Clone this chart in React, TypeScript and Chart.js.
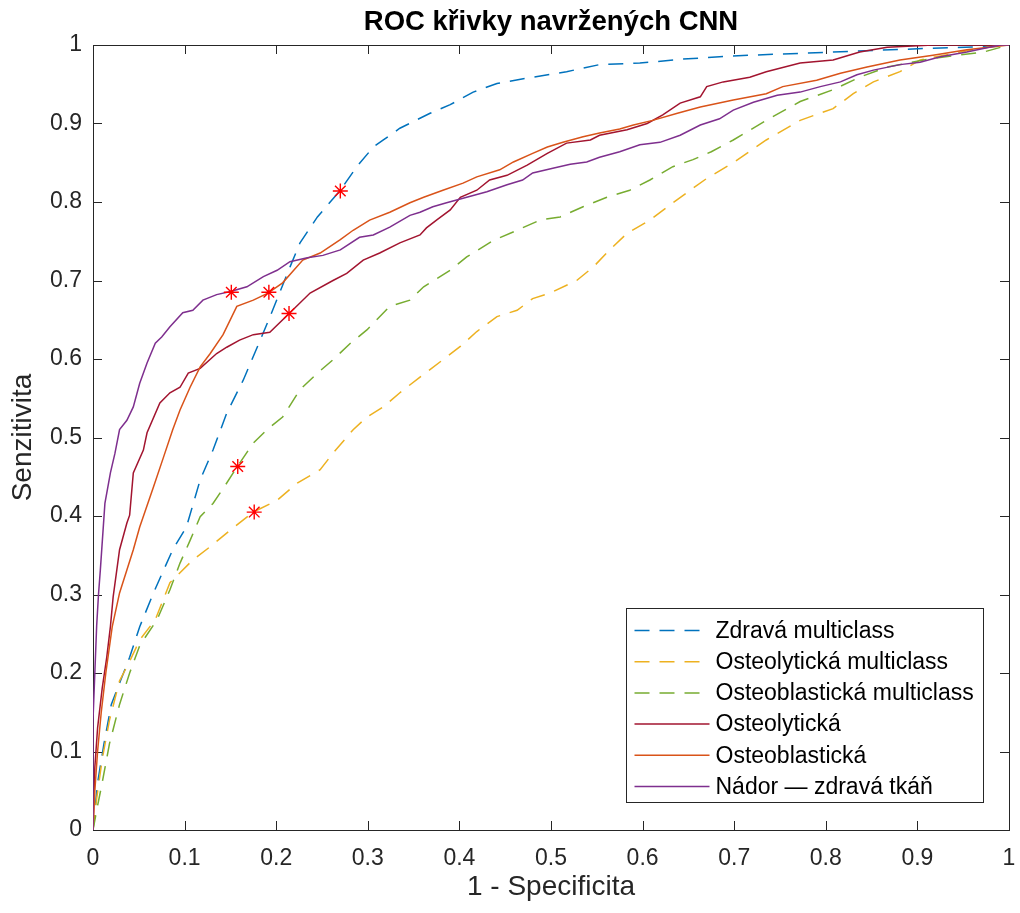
import React, { useEffect, useRef } from "react";
import { Chart, registerables } from "chart.js";

Chart.register(...registerables);

const TITLE = "ROC křivky navržených CNN";
const X_LABEL = "1 - Specificita";
const Y_LABEL = "Senzitivita";
const TICKS = [0, 0.1, 0.2, 0.3, 0.4, 0.5, 0.6, 0.7, 0.8, 0.9, 1];

const SERIES_NAMES = [
  "Zdravá multiclass",
  "Osteolytická multiclass",
  "Osteoblastická multiclass",
  "Osteolytická",
  "Osteoblastická",
  "Nádor — zdravá tkáň",
];
const SERIES_COLORS = ["#0072BD", "#EDB120", "#77AC30", "#A2142F", "#D95319", "#7E2F8E"];
const SERIES_DASHED = [true, true, true, false, false, false];

// Zdravá multiclass
const zdravaMultiFpr = [0, 0.005, 0.012, 0.02, 0.03, 0.04, 0.051, 0.066, 0.087, 0.102, 0.117, 0.131, 0.146, 0.164, 0.184, 0.195, 0.215, 0.226, 0.245, 0.27, 0.288, 0.306, 0.317, 0.335, 0.368, 0.39, 0.415, 0.441, 0.48, 0.517, 0.553, 0.597, 0.644, 0.684, 0.717, 0.808, 0.917, 0.983, 1];
const zdravaMultiTpr = [0, 0.06, 0.11, 0.16, 0.19, 0.22, 0.259, 0.302, 0.357, 0.386, 0.446, 0.484, 0.531, 0.573, 0.628, 0.659, 0.717, 0.748, 0.781, 0.815, 0.845, 0.87, 0.879, 0.894, 0.913, 0.924, 0.94, 0.951, 0.959, 0.966, 0.975, 0.977, 0.982, 0.985, 0.987, 0.991, 0.996, 0.998, 1];

// Osteolytická multiclass
const lytMultiFpr = [0, 0.004, 0.01, 0.018, 0.029, 0.04, 0.051, 0.068, 0.084, 0.109, 0.128, 0.15, 0.175, 0.201, 0.223, 0.248, 0.262, 0.284, 0.299, 0.317, 0.335, 0.357, 0.382, 0.401, 0.419, 0.441, 0.463, 0.48, 0.499, 0.528, 0.546, 0.564, 0.583, 0.608, 0.633, 0.652, 0.67, 0.699, 0.735, 0.772, 0.808, 0.83, 0.852, 0.881, 0.903, 0.947, 0.99, 1];
const lytMultiTpr = [0, 0.04, 0.09, 0.14, 0.19, 0.215, 0.242, 0.268, 0.315, 0.344, 0.361, 0.382, 0.405, 0.42, 0.442, 0.459, 0.48, 0.51, 0.526, 0.539, 0.557, 0.577, 0.599, 0.616, 0.635, 0.654, 0.662, 0.677, 0.684, 0.7, 0.717, 0.739, 0.76, 0.777, 0.799, 0.815, 0.83, 0.85, 0.879, 0.904, 0.919, 0.938, 0.953, 0.966, 0.981, 0.991, 1, 1];

// Osteoblastická multiclass
const blastMultiFpr = [0, 0.004, 0.01, 0.018, 0.029, 0.04, 0.051, 0.07, 0.084, 0.095, 0.106, 0.117, 0.131, 0.146, 0.157, 0.175, 0.19, 0.207, 0.226, 0.245, 0.262, 0.281, 0.299, 0.324, 0.346, 0.361, 0.39, 0.408, 0.437, 0.463, 0.488, 0.51, 0.535, 0.561, 0.586, 0.608, 0.633, 0.655, 0.675, 0.699, 0.735, 0.772, 0.808, 0.837, 0.867, 0.917, 0.972, 1];
const blastMultiTpr = [0, 0.025, 0.06, 0.11, 0.16, 0.2, 0.235, 0.268, 0.306, 0.34, 0.369, 0.399, 0.416, 0.442, 0.462, 0.493, 0.51, 0.526, 0.561, 0.582, 0.599, 0.62, 0.637, 0.667, 0.675, 0.692, 0.713, 0.73, 0.751, 0.764, 0.777, 0.781, 0.794, 0.806, 0.815, 0.828, 0.845, 0.854, 0.864, 0.879, 0.904, 0.928, 0.943, 0.959, 0.972, 0.983, 0.991, 1];

// Osteolytická
const lytFpr = [0, 0.002, 0.005, 0.01, 0.015, 0.019, 0.022, 0.029, 0.037, 0.04, 0.044, 0.055, 0.059, 0.073, 0.084, 0.095, 0.104, 0.117, 0.135, 0.146, 0.16, 0.175, 0.193, 0.215, 0.237, 0.262, 0.277, 0.295, 0.313, 0.335, 0.357, 0.364, 0.375, 0.39, 0.401, 0.419, 0.433, 0.452, 0.474, 0.496, 0.517, 0.543, 0.553, 0.583, 0.605, 0.622, 0.641, 0.663, 0.67, 0.688, 0.717, 0.735, 0.772, 0.808, 0.837, 0.867, 0.917, 1];
const lytTpr = [0, 0.08, 0.13, 0.18, 0.22, 0.259, 0.297, 0.357, 0.391, 0.401, 0.455, 0.484, 0.506, 0.544, 0.557, 0.564, 0.582, 0.588, 0.607, 0.615, 0.624, 0.631, 0.634, 0.659, 0.684, 0.7, 0.709, 0.726, 0.735, 0.748, 0.758, 0.767, 0.777, 0.79, 0.806, 0.815, 0.828, 0.834, 0.847, 0.862, 0.875, 0.879, 0.885, 0.892, 0.9, 0.911, 0.926, 0.934, 0.947, 0.953, 0.959, 0.966, 0.977, 0.981, 0.991, 0.997, 1, 1];

// Osteoblastická
const blastFpr = [0, 0.002, 0.005, 0.009, 0.014, 0.021, 0.029, 0.044, 0.051, 0.066, 0.077, 0.087, 0.095, 0.106, 0.117, 0.128, 0.142, 0.157, 0.175, 0.191, 0.207, 0.229, 0.248, 0.27, 0.284, 0.302, 0.324, 0.346, 0.361, 0.382, 0.404, 0.419, 0.444, 0.459, 0.48, 0.496, 0.513, 0.535, 0.553, 0.575, 0.59, 0.611, 0.638, 0.663, 0.699, 0.735, 0.753, 0.79, 0.816, 0.845, 0.881, 0.917, 0.954, 1];
const blastTpr = [0, 0.05, 0.1, 0.15, 0.2, 0.259, 0.302, 0.357, 0.386, 0.437, 0.475, 0.51, 0.535, 0.564, 0.59, 0.607, 0.631, 0.667, 0.675, 0.684, 0.697, 0.726, 0.735, 0.752, 0.764, 0.777, 0.787, 0.799, 0.806, 0.815, 0.824, 0.832, 0.841, 0.851, 0.862, 0.87, 0.876, 0.883, 0.888, 0.893, 0.898, 0.904, 0.913, 0.921, 0.93, 0.938, 0.947, 0.955, 0.964, 0.972, 0.981, 0.987, 0.994, 1];

// Nádor — zdravá tkáň
const tumorFpr = [0, 0, 0.002, 0.004, 0.006, 0.008, 0.013, 0.019, 0.024, 0.029, 0.037, 0.044, 0.051, 0.059, 0.068, 0.075, 0.084, 0.098, 0.109, 0.12, 0.135, 0.15, 0.168, 0.186, 0.201, 0.215, 0.234, 0.251, 0.27, 0.291, 0.306, 0.324, 0.346, 0.357, 0.371, 0.386, 0.408, 0.43, 0.452, 0.469, 0.48, 0.502, 0.521, 0.539, 0.553, 0.575, 0.597, 0.619, 0.641, 0.663, 0.684, 0.699, 0.721, 0.747, 0.772, 0.794, 0.816, 0.834, 0.852, 0.881, 0.903, 0.925, 0.954, 0.99, 1];
const tumorTpr = [0, 0.14, 0.2, 0.26, 0.3, 0.331, 0.416, 0.455, 0.48, 0.51, 0.522, 0.539, 0.569, 0.595, 0.62, 0.628, 0.641, 0.659, 0.662, 0.675, 0.682, 0.686, 0.692, 0.705, 0.713, 0.724, 0.729, 0.732, 0.739, 0.755, 0.758, 0.768, 0.783, 0.787, 0.794, 0.799, 0.806, 0.813, 0.822, 0.828, 0.837, 0.843, 0.848, 0.851, 0.857, 0.864, 0.873, 0.876, 0.885, 0.898, 0.906, 0.917, 0.927, 0.936, 0.94, 0.947, 0.953, 0.962, 0.968, 0.975, 0.978, 0.985, 0.991, 1, 1];

// Operating points (red asterisks)
const markerFpr = [0.27, 0.151, 0.192, 0.214, 0.158, 0.176];
const markerTpr = [0.814, 0.685, 0.685, 0.658, 0.463, 0.405];

const SERIES_FPR = [zdravaMultiFpr, lytMultiFpr, blastMultiFpr, lytFpr, blastFpr, tumorFpr];
const SERIES_TPR = [zdravaMultiTpr, lytMultiTpr, blastMultiTpr, lytTpr, blastTpr, tumorTpr];

const FONT = "'Liberation Sans', Arial, Helvetica, sans-serif";
const AXIS_COLOR = "#262626";
const DASH = [15, 10];

const fmtTick = (v: number) => {
  const r = Math.round(v * 10) / 10;
  if (r === 0) return "0";
  if (r === 1) return "1";
  return r.toFixed(1);
};

const framePlugin = {
  id: "matlabFrame",
  beforeDatasetsDraw(chart: any) {
    const { ctx, chartArea: a, scales } = chart;
    const L = 9;
    ctx.save();
    ctx.strokeStyle = AXIS_COLOR;
    ctx.lineWidth = 1;
    ctx.setLineDash([]);
    ctx.beginPath();
    for (const t of TICKS) {
      const x = Math.round(scales.x.getPixelForValue(t)) + 0.5;
      ctx.moveTo(x, a.bottom);
      ctx.lineTo(x, a.bottom - L);
      ctx.moveTo(x, a.top);
      ctx.lineTo(x, a.top + L);
      const y = Math.round(scales.y.getPixelForValue(t)) + 0.5;
      ctx.moveTo(a.left, y);
      ctx.lineTo(a.left + L, y);
      ctx.moveTo(a.right, y);
      ctx.lineTo(a.right - L, y);
    }
    ctx.stroke();
    const l = Math.round(a.left) + 0.5;
    const t = Math.round(a.top) + 0.5;
    const r = Math.round(a.right) + 0.5;
    const b = Math.round(a.bottom) + 0.5;
    ctx.strokeRect(l, t, r - l, b - t);
    ctx.restore();
  },
};

const legendPlugin = {
  id: "matlabLegend",
  afterDraw(chart: any) {
    const { ctx, chartArea: a } = chart;
    const items = chart.data.datasets.filter((d: any) => d.inLegend);
    ctx.save();
    ctx.font = `23px ${FONT}`;
    let maxW = 0;
    for (const d of items) maxW = Math.max(maxW, ctx.measureText(d.label).width);
    const padL = 8;
    const lineLen = 75;
    const gap = 6;
    const padR = 10;
    const rowH = 31.2;
    const w = padL + lineLen + gap + maxW + padR;
    const h = 22 + rowH * (items.length - 1) + 17;
    const right = Math.round(a.right - 26) + 0.5;
    const bottom = Math.round(a.bottom - 28) + 0.5;
    const left = Math.round(right - w) + 0.5;
    const top = Math.round(bottom - h) + 0.5;
    ctx.fillStyle = "#ffffff";
    ctx.fillRect(left, top, right - left, bottom - top);
    ctx.strokeStyle = AXIS_COLOR;
    ctx.lineWidth = 1;
    ctx.setLineDash([]);
    ctx.strokeRect(left, top, right - left, bottom - top);
    ctx.textBaseline = "middle";
    ctx.textAlign = "left";
    items.forEach((d: any, i: number) => {
      const y = top + 22 + i * rowH;
      ctx.beginPath();
      ctx.strokeStyle = d.borderColor;
      ctx.lineWidth = 1.5;
      ctx.setLineDash(d.borderDash || []);
      ctx.moveTo(left + padL, y);
      ctx.lineTo(left + padL + lineLen, y);
      ctx.stroke();
      ctx.setLineDash([]);
      ctx.fillStyle = "#000000";
      ctx.fillText(d.label, left + padL + lineLen + gap, y + 1);
    });
    ctx.restore();
  },
};

export default function App() {
  const canvasRef = useRef<HTMLCanvasElement | null>(null);

  useEffect(() => {
    document.body.style.margin = "0";
    const canvas = canvasRef.current;
    if (!canvas) return;

    const lineSets = SERIES_NAMES.map((name, i) => ({
      label: name,
      inLegend: true,
      data: SERIES_FPR[i].map((x, k) => ({ x, y: SERIES_TPR[i][k] })),
      borderColor: SERIES_COLORS[i],
      backgroundColor: SERIES_COLORS[i],
      borderWidth: 1.5,
      borderDash: SERIES_DASHED[i] ? DASH : [],
      pointRadius: 0,
      pointHoverRadius: 0,
      showLine: true,
      tension: 0,
      fill: false,
      order: 10 - i,
    }));

    const markerSet = {
      label: "",
      inLegend: false,
      data: markerFpr.map((x, k) => ({ x, y: markerTpr[k] })),
      borderColor: "#FF0000",
      backgroundColor: "#FF0000",
      showLine: false,
      pointStyle: "star",
      pointRadius: 7.5,
      pointBorderWidth: 1.4,
      borderWidth: 1.4,
      order: 0,
    };

    const chart = new Chart(canvas, {
      type: "scatter",
      data: { datasets: [...lineSets, markerSet] as any },
      options: {
        animation: false,
        responsive: false,
        devicePixelRatio: 1,
        layout: { padding: { left: 0, right: 11, top: 0, bottom: 0 } },
        plugins: {
          legend: { display: false },
          tooltip: { enabled: false },
          title: {
            display: true,
            text: TITLE,
            fullSize: false,
            color: "#000000",
            font: { family: FONT, size: 27.5, weight: "bold", lineHeight: 1.2 },
            padding: { top: 6, bottom: 6 },
          },
        },
        scales: {
          x: {
            type: "linear",
            min: 0,
            max: 1,
            grid: { display: false, drawTicks: false },
            border: { display: false },
            afterFit: (s: any) => {
              s.height = 83;
              s.paddingLeft = 0;
              s.paddingRight = 0;
            },
            afterBuildTicks: (s: any) => {
              s.ticks = TICKS.map((v) => ({ value: v }));
            },
            ticks: {
              color: AXIS_COLOR,
              font: { family: FONT, size: 23 },
              padding: 15,
              maxRotation: 0,
              autoSkip: false,
              callback: (v: any) => fmtTick(Number(v)),
            },
            title: {
              display: true,
              text: X_LABEL,
              color: AXIS_COLOR,
              font: { family: FONT, size: 28, lineHeight: 1.2 },
              padding: { top: 0, bottom: 9 },
            },
          },
          y: {
            type: "linear",
            min: 0,
            max: 1,
            grid: { display: false, drawTicks: false },
            border: { display: false },
            afterFit: (s: any) => {
              s.width = 93;
              s.paddingTop = 0;
              s.paddingBottom = 0;
            },
            afterBuildTicks: (s: any) => {
              s.ticks = TICKS.map((v) => ({ value: v }));
            },
            ticks: {
              color: AXIS_COLOR,
              font: { family: FONT, size: 23 },
              padding: 11,
              autoSkip: false,
              callback: (v: any) => fmtTick(Number(v)),
            },
            title: {
              display: true,
              text: Y_LABEL,
              color: AXIS_COLOR,
              font: { family: FONT, size: 28, lineHeight: 1.2 },
              padding: { top: 6, bottom: 0 },
            },
          },
        },
      },
      plugins: [framePlugin, legendPlugin],
    } as any);

    return () => {
      chart.destroy();
    };
  }, []);

  return (
    <div style={{ position: "absolute", left: 0, top: 0, width: 1020, height: 913, background: "#ffffff" }}>
      <canvas ref={canvasRef} width={1020} height={913} style={{ display: "block", width: 1020, height: 913 }} />
    </div>
  );
}
